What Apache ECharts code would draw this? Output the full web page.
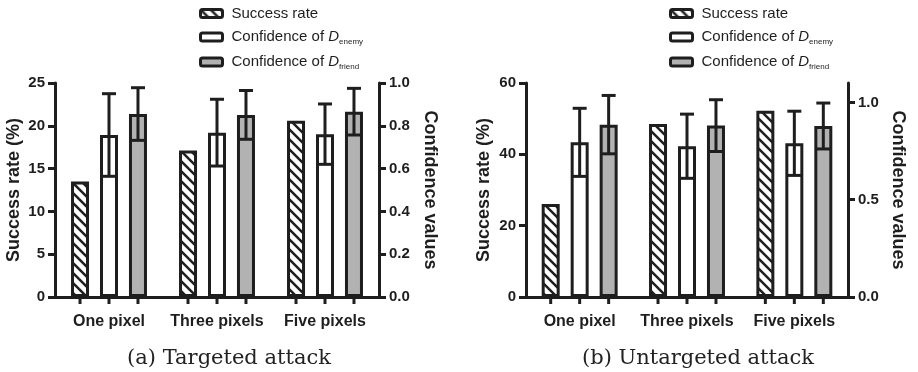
<!DOCTYPE html>
<html><head><meta charset="utf-8">
<script src="https://cdn.jsdelivr.net/npm/echarts@6/dist/echarts.min.js"></script>
<style>html,body{margin:0;padding:0;background:#fff}#c{width:918px;height:372px}</style>
</head><body><div id="c"></div>
<script>
// ---- data ----
const categories = ['One pixel', 'Three pixels', 'Five pixels'];
const seriesNames = ['Success rate', 'Confidence of D_enemy', 'Confidence of D_friend'];
// (a) Targeted attack
const tSuccess = [13.5, 17.1, 20.6];
const tEnemy = [0.757, 0.768, 0.761];
const tEnemyErr = [0.193, 0.156, 0.141];
const tFriend = [0.855, 0.851, 0.866];
const tFriendErr = [0.123, 0.114, 0.109];
const tLeftTicks = [0, 5, 10, 15, 20, 25];
const tRightTicks = [0, 0.2, 0.4, 0.6, 0.8, 1.0];
// (b) Untargeted attack
const uSuccess = [26.1, 48.5, 52.2];
const uEnemy = [0.795, 0.775, 0.790];
const uEnemyErr = [0.175, 0.165, 0.165];
const uFriend = [0.886, 0.881, 0.879];
const uFriendErr = [0.150, 0.133, 0.118];
const uLeftTicks = [0, 20, 40, 60];
const uRightTicks = [0, 0.5, 1.0];
const uRightMax = 1.1;
const captions = ['(a) Targeted attack', '(b) Untargeted attack'];

// ---- styles ----
const INK = '#1e1e1e';
const GRAY = '#b2b2b2';
const BAR_W = 18;
const BAR_GAP = 0.61;
const SPACING = BAR_W * (1 + BAR_GAP);
const SANS = '"Liberation Sans", Arial, sans-serif';

function hatch() {
  const s = 10, c = document.createElement('canvas');
  c.width = s; c.height = s;
  const g = c.getContext('2d');
  g.fillStyle = '#fff'; g.fillRect(0, 0, s, s);
  g.strokeStyle = INK; g.lineWidth = 2.5;
  for (const k of [-s, 0, s]) { g.beginPath(); g.moveTo(-1, k - 1); g.lineTo(s + 1, s + k + 1); g.stroke(); }
  return { image: c, repeat: 'repeat' };
}
const HATCH = hatch();
const fills = [HATCH, '#ffffff', GRAY];

function barSeries(i, data, gi) {
  return {
    type: 'bar', name: seriesNames[i], data: data,
    xAxisIndex: gi, yAxisIndex: gi * 2 + (i === 0 ? 0 : 1),
    barWidth: BAR_W, barGap: (BAR_GAP * 100) + '%',
    itemStyle: { color: fills[i], borderColor: INK, borderWidth: 3 },
    z: 2, animation: false
  };
}
function errSeries(slot, mean, err, gi) {
  return {
    type: 'custom', name: 'err' + gi + slot, xAxisIndex: gi, yAxisIndex: gi * 2 + 1,
    data: mean.map((m, k) => [k, m, err[k]]), encode: { x: 0, y: 1 }, z: 5, silent: true, animation: false,
    renderItem: function (params, api) {
      const idx = api.value(0), m = api.value(1), e = api.value(2);
      const p1 = api.coord([idx, m + e]), p2 = api.coord([idx, m - e]);
      const x = p1[0] + (slot - 1) * SPACING;
      const st = { stroke: INK, lineWidth: 3 };
      return { type: 'group', children: [
        { type: 'line', shape: { x1: x, y1: p1[1], x2: x, y2: p2[1] }, style: st },
        { type: 'line', shape: { x1: x - 7, y1: p1[1], x2: x + 7, y2: p1[1] }, style: st },
        { type: 'line', shape: { x1: x - 7, y1: p2[1], x2: x + 7, y2: p2[1] }, style: st }
      ] };
    }
  };
}
function tickSeries(gi) {
  return {
    type: 'custom', name: 'ticks' + gi, xAxisIndex: gi, yAxisIndex: gi * 2, clip: false,
    data: categories.map((c, k) => [k, 0]), encode: { x: 0, y: 1 }, silent: true, animation: false, z: 5,
    renderItem: function (params, api) {
      const p = api.coord([api.value(0), 0]);
      const ch = [];
      for (let j = 0; j < 3; j++) {
        const x = p[0] + (j - 1) * SPACING;
        ch.push({ type: 'line', shape: { x1: x, y1: p[1], x2: x, y2: p[1] + 7 }, style: { stroke: INK, lineWidth: 3 } });
      }
      return { type: 'group', children: ch };
    }
  };
}
function xAxis(gi) {
  return {
    type: 'category', gridIndex: gi, data: categories,
    axisLine: { lineStyle: { color: INK, width: 3 } }, axisTick: { show: false },
    axisLabel: { interval: 0, color: INK, fontFamily: SANS, fontWeight: 'bold', fontSize: 16, margin: 17 }
  };
}
function yAxis(gi, pos, ticks, max, name, gap, rot) {
  const interval = ticks[1] - ticks[0];
  return {
    type: 'value', gridIndex: gi, position: pos, min: ticks[0], max: max, interval: interval,
    name: name, nameLocation: 'middle', nameGap: gap, nameRotate: rot,
    nameTextStyle: { color: INK, fontFamily: SANS, fontWeight: 'bold', fontSize: 18 },
    axisLine: { show: true, lineStyle: { color: INK, width: 3 } },
    axisTick: { show: true, length: 7, lineStyle: { color: INK, width: 3 }, customValues: ticks },
    splitLine: { show: false },
    axisLabel: { color: INK, fontFamily: SANS, fontWeight: 'bold', fontSize: 15, margin: 10, customValues: ticks,
      formatter: v => (pos === 'right' ? Number(v).toFixed(1) : String(v)) }
  };
}
function legend(left) {
  return {
    data: seriesNames, orient: 'vertical', left: left, top: 1, itemWidth: 22, itemHeight: 8, itemGap: 8.5,
    selectedMode: false,
    itemStyle: { borderColor: INK, borderWidth: 3 },
    textStyle: { color: INK, fontFamily: SANS, fontSize: 15, padding: [0, 0, 0, 4],
      rich: {
        n: { fontFamily: SANS, fontSize: 15, color: INK, lineHeight: 18 },
        d: { fontFamily: SANS, fontSize: 15, fontStyle: 'italic', color: INK, lineHeight: 18 },
        s: { fontFamily: SANS, fontSize: 8, color: INK, verticalAlign: 'bottom', lineHeight: 15 }
      } },
    formatter: function (name) {
      const m = name.match(/^(.*)D_(\w+)$/);
      if (m) return '{n|' + m[1] + '}{d|D}{s|' + m[2] + '}';
      return '{n|' + name + '}';
    }
  };
}

const capStyle = { fontFamily: '"DejaVu Serif", serif', fontWeight: 'normal', fontSize: 21, color: '#222' };
const option = {
  backgroundColor: '#fff',
  animation: false,
  title: [
    { text: captions[0], left: 224, top: 343, textAlign: 'center', textStyle: capStyle },
    { text: captions[1], left: 693, top: 343, textAlign: 'center', textStyle: capStyle }
  ],
  legend: [legend(194), legend(664)],
  grid: [
    { left: 55, right: 918 - 379, top: 83, bottom: 372 - 297 },
    { left: 526, right: 918 - 848, top: 83, bottom: 372 - 297 }
  ],
  xAxis: [xAxis(0), xAxis(1)],
  yAxis: [
    yAxis(0, 'left', tLeftTicks, tLeftTicks[tLeftTicks.length - 1], 'Success rate (%)', 32, 90),
    yAxis(0, 'right', tRightTicks, tRightTicks[tRightTicks.length - 1], 'Confidence values', 42, -90),
    yAxis(1, 'left', uLeftTicks, uLeftTicks[uLeftTicks.length - 1], 'Success rate (%)', 33, 90),
    yAxis(1, 'right', uRightTicks, uRightMax, 'Confidence values', 41, -90)
  ],
  series: [
    barSeries(0, tSuccess, 0), barSeries(1, tEnemy, 0), barSeries(2, tFriend, 0),
    errSeries(1, tEnemy, tEnemyErr, 0), errSeries(2, tFriend, tFriendErr, 0), tickSeries(0),
    barSeries(0, uSuccess, 1), barSeries(1, uEnemy, 1), barSeries(2, uFriend, 1),
    errSeries(1, uEnemy, uEnemyErr, 1), errSeries(2, uFriend, uFriendErr, 1), tickSeries(1)
  ]
};
const chart = echarts.init(document.getElementById('c'), null, { renderer: 'canvas' });
chart.setOption(option);
</script></body></html>
